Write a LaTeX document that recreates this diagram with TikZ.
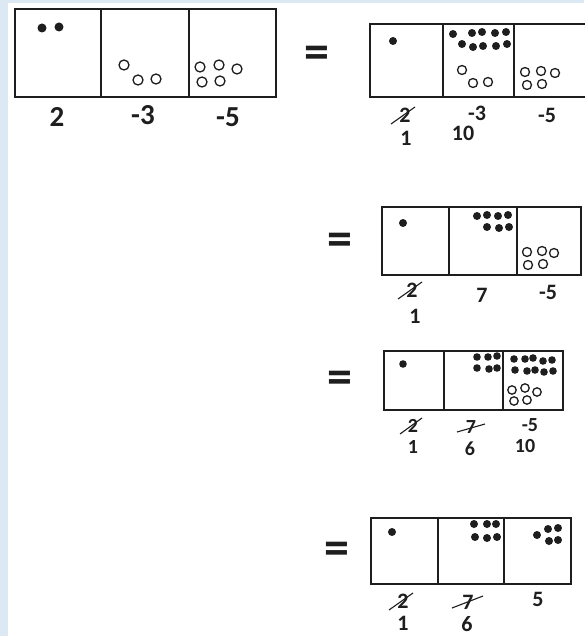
\documentclass[tikz,border=0pt]{standalone}
\usepackage{fontspec}
\setmainfont{Carlito}
\usetikzlibrary{positioning}
\definecolor{ink}{HTML}{1E1E1E}
\definecolor{bgblue}{HTML}{DDE8F5}

\begin{document}
\begin{tikzpicture}[x=1pt,y=-1pt,
  cell/.style={draw=ink,line width=1.3pt,inner sep=0pt,outer sep=0pt,minimum height=#1},
  dot/.style={fill=ink},
  hole/.style={draw=ink,line width=1.3pt,fill=white},
  num/.style={text=ink,inner sep=0pt,font=\bfseries\fontsize{22}{22}\selectfont},
  smallnum/.style={num,font=\bfseries\fontsize{20}{20}\selectfont},
  bignum/.style={num,font=\bfseries\fontsize{29}{29}\selectfont},
  eq/.style={text=ink,inner sep=0pt,font=\bfseries\fontsize{50}{50}\selectfont},
  strike/.style={draw=ink,line width=1.1pt}]
\useasboundingbox (0,0) rectangle (584,636);
\fill[bgblue] (0,0) rectangle (584,636);
\fill[white] (8,3) rectangle (584,636);

% 2, -3, -5
\node[cell=88pt,minimum width=86pt,anchor=north west] (a1) at (15,9) {};
\node[cell=88pt,minimum width=88pt,right=0pt of a1] (a2) {};
\node[cell=88pt,minimum width=87pt,right=0pt of a2] (a3) {};
\foreach \p in {(42,28),(59,27)} \fill[dot] \p circle[radius=4.5pt];
\foreach \p in {(124,65),(138,80),(156,79),(200,67),(219,65),(237,69),(202,82),(220,81)}
  \draw[hole] \p circle[radius=5pt];
\node[bignum] (a1n) at (57,117) {2};
\node[bignum] (a2n) at (143,115) {-3};
\node[bignum] (a3n) at (228,117) {-5};

% first trade
\node[eq] (eq1) at (317,57) {=};
\node[cell=73pt,minimum width=73pt,anchor=north west] (b1) at (370,24) {};
\node[cell=73pt,minimum width=71pt,right=0pt of b1] (b2) {};
\node[cell=73pt,minimum width=76pt,right=0pt of b2] (b3) {};
\foreach \p in {(393,41),(453,34),(472,33),(482,32),(495,33),(506,32),
  (462,44),(473,47),(483,46),(496,46),(507,44)} \fill[dot] \p circle[radius=4pt];
\foreach \p in {(462,70),(473,83),(488,82),(525,72),(541,71),(555,73),(527,85),(542,84)}
  \draw[hole] \p circle[radius=4.5pt];
\node[num] (b1n) at (405,115) {2};
\draw[strike] ([shift={(-14,9)}]b1n.center) -- ([shift={(10,-8)}]b1n.center);
\node[num] (b1m) at (406,138) {1};
\node[num] (b2n) at (477,113) {-3};
\node[num] (b2m) at (463,133) {10};
\node[num] (b3n) at (547,115) {-5};

% 10 - 3 = 7
\node[eq] (eq2) at (340,244) {=};
\node[cell=68pt,minimum width=67pt,anchor=north west] (c1) at (382,207) {};
\node[cell=68pt,minimum width=68pt,right=0pt of c1] (c2) {};
\node[cell=68pt,minimum width=64pt,right=0pt of c2] (c3) {};
\foreach \p in {(403,223),(477,216),(487,215),(498,216),(508,215),(487,227),(499,228),(509,227)}
  \fill[dot] \p circle[radius=4pt];
\foreach \p in {(527,252),(542,251),(554,253),(528,265),(543,264)}
  \draw[hole] \p circle[radius=4.5pt];
\node[num] (c1n) at (412,290) {2};
\draw[strike] ([shift={(-14,9)}]c1n.center) -- ([shift={(10,-8)}]c1n.center);
\node[num] (c1m) at (415,316) {1};
\node[num] (c2n) at (482,295) {7};
\node[num] (c3n) at (548,292) {-5};

% second trade
\node[eq] (eq3) at (340,382) {=};
\node[cell=59pt,minimum width=60pt,anchor=north west] (d1) at (384,351) {};
\node[cell=59pt,minimum width=59pt,right=0pt of d1] (d2) {};
\node[cell=59pt,minimum width=60pt,right=0pt of d2] (d3) {};
\foreach \p in {(403,364),(477,357),(488,357),(497,356),(477,368),(489,369),(497,368),
  (514,359),(525,359),(533,358),(543,361),(552,360),(515,370),(527,371),(535,370),(544,372),(553,371)}
  \fill[dot] \p circle[radius=3.8pt];
\foreach \p in {(512,390),(525,388),(537,392),(514,401),(527,400)}
  \draw[hole] \p circle[radius=4.2pt];
\node[smallnum] (d1n) at (413,426) {2};
\draw[strike] ([shift={(-13,8)}]d1n.center) -- ([shift={(9,-8)}]d1n.center);
\node[smallnum] (d1m) at (413,447) {1};
\node[smallnum] (d2n) at (471,427) {7};
\draw[strike] ([shift={(-14,5)}]d2n.center) -- ([shift={(14,-3)}]d2n.center);
\node[smallnum] (d2m) at (470,449) {6};
\node[smallnum] (d3n) at (530,425) {-5};
\node[smallnum] (d3m) at (525,446) {10};

% 1, 6, 5
\node[eq] (eq4) at (337,553) {=};
\node[cell=66pt,minimum width=67pt,anchor=north west] (e1) at (371,518) {};
\node[cell=66pt,minimum width=66pt,right=0pt of e1] (e2) {};
\node[cell=66pt,minimum width=67pt,right=0pt of e2] (e3) {};
\foreach \p in {(392,532),(474,524),(487,524),(496,524),(475,537),(487,538),(497,537),
  (537,535),(548,529),(558,528),(549,541),(558,540)} \fill[dot] \p circle[radius=4pt];
\node[num] (e1n) at (403,601) {2};
\draw[strike] ([shift={(-14,9)}]e1n.center) -- ([shift={(10,-8)}]e1n.center);
\node[num] (e1m) at (403,623) {1};
\node[num] (e2n) at (468,602) {7};
\draw[strike] ([shift={(-16,6)}]e2n.center) -- ([shift={(15,-6)}]e2n.center);
\node[num] (e2m) at (467,624) {6};
\node[num] (e3n) at (538,599) {5};
\end{tikzpicture}
\end{document}
